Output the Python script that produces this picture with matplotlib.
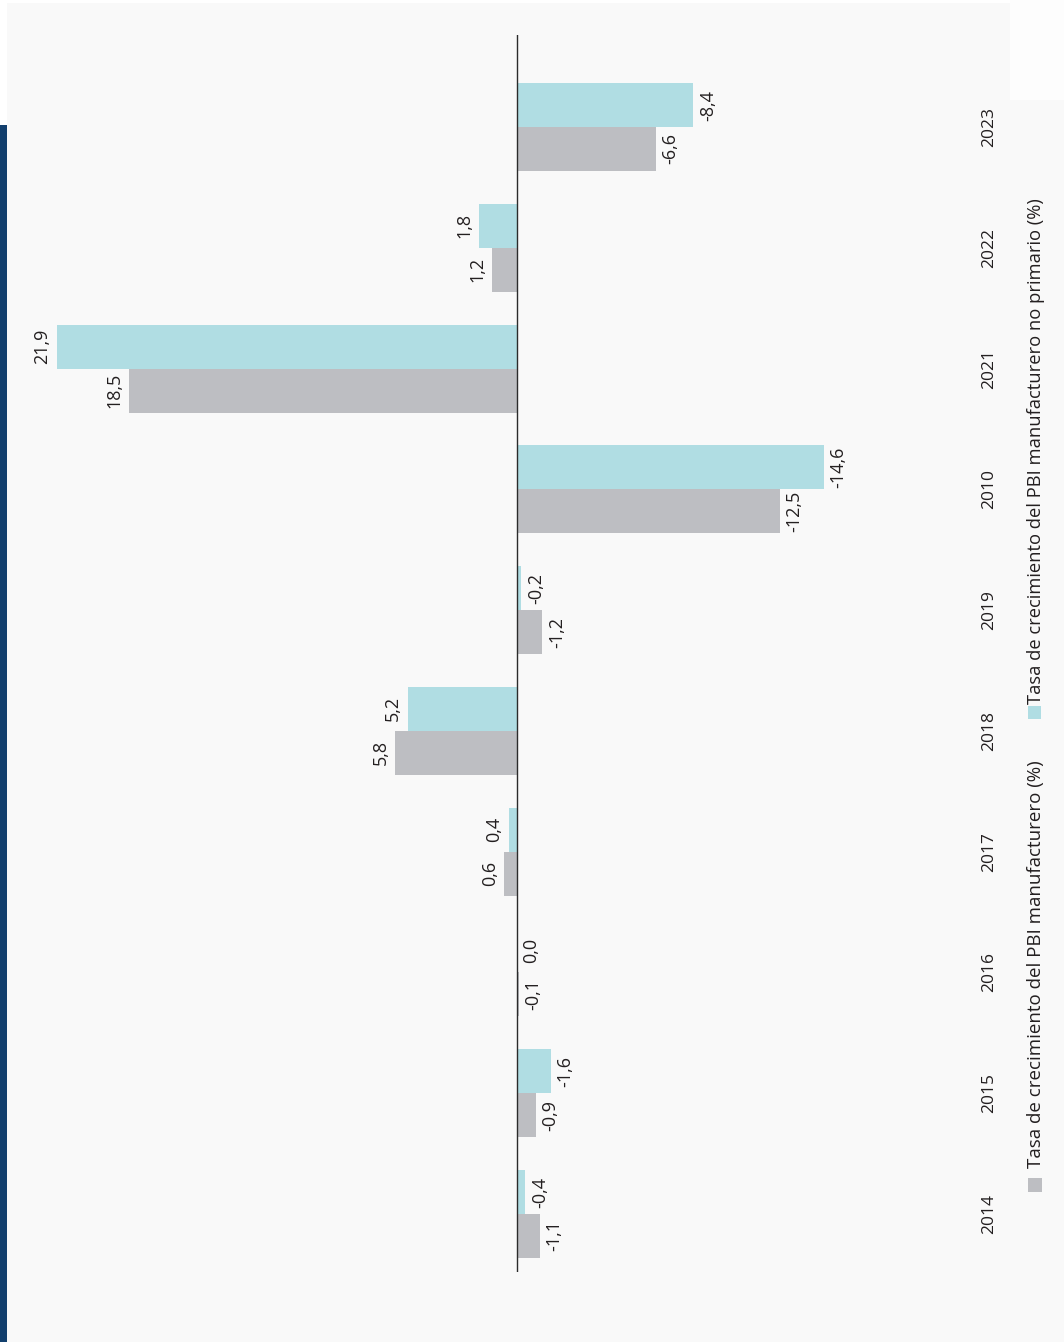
import matplotlib
matplotlib.use("Agg")
import matplotlib.pyplot as plt
import matplotlib.transforms as mtransforms
from matplotlib.patches import Rectangle
import numpy as np

# ---- data ----
years = ["2014", "2015", "2016", "2017", "2018", "2019", "2010", "2021", "2022", "2023"]
manufacturero = [-1.1, -0.9, -0.1, 0.6, 5.8, -1.2, -12.5, 18.5, 1.2, -6.6]
no_primario = [-0.4, -1.6, 0.0, 0.4, 5.2, -0.2, -14.6, 21.9, 1.8, -8.4]
legend_labels = ["Tasa de crecimiento del PBI manufacturero (%)",
                 "Tasa de crecimiento del PBI manufacturero no primario (%)"]

GRAY = "#bdbec2"
CYAN = "#b0dde3"
TEXT = "#231f20"

plt.rcParams['font.family'] = ['Open Sans', 'DejaVu Sans']

W, H = 1064, 1342
fig = plt.figure(figsize=(W / 100, H / 100), dpi=100, facecolor="white")

def fx(px):
    return px / W

def fy(py):
    return (H - py) / H

# background panel and blue strip
fig.patches.append(Rectangle((fx(7), fy(H)), fx(W - 7), (H - 3) / H,
                             transform=fig.transFigure, facecolor="#f9f9f9",
                             edgecolor="none", zorder=-10))
fig.patches.append(Rectangle((fx(1010), fy(100)), fx(W - 1010), 100 / H,
                             transform=fig.transFigure, facecolor="#fdfdfd",
                             edgecolor="none", zorder=-9))
fig.patches.append(Rectangle((0, 0), fx(7), (H - 125) / H,
                             transform=fig.transFigure, facecolor="#123f6d",
                             edgecolor="none", zorder=-8))

ax_left, ax_right, ax_top, ax_bottom = 40, 960, 35, 1272
ax = fig.add_axes([fx(ax_left), fy(ax_bottom), fx(ax_right - ax_left),
                   (ax_bottom - ax_top) / H])
ax.set_facecolor("none")

zero_px = 517
scale = 21.0
ax.set_xlim((zero_px - ax_left) / scale, -(ax_right - zero_px) / scale)
spacing = 120.8
c0, c9 = 1214, 127
ax.set_ylim(-(ax_bottom - c0) / spacing, 9 + (c9 - ax_top) / spacing)

y = np.arange(len(years))
h = 0.364
off = h / 2
ax.barh(y - off, manufacturero, height=h, color=GRAY, edgecolor="none", zorder=2)
ax.barh(y + off, no_primario, height=h, color=CYAN, edgecolor="none", zorder=2)
ax.axvline(0, color="#2b2b2b", lw=1.0, zorder=3)

def fmt(v):
    return f"{v:.1f}".replace(".", ",")

for series, dy in ((manufacturero, -off), (no_primario, off)):
    for yi, v in zip(y, series):
        if v > 0:
            ax.annotate(fmt(v), (v, yi + dy), xytext=(-4, 0), textcoords="offset points",
                        rotation=90, ha="right", va="center", fontsize=13, color=TEXT)
        else:
            ax.annotate(fmt(v), (v, yi + dy), xytext=(4, 0), textcoords="offset points",
                        rotation=90, ha="left", va="center", fontsize=13, color=TEXT)

trans = mtransforms.blended_transform_factory(fig.transFigure, ax.transData)
for yi, yr in zip(y, years):
    ax.text(fx(989), yi, yr, transform=trans, rotation=90, ha="center", va="center",
            fontsize=12.5, color=TEXT)

for sp in ax.spines.values():
    sp.set_visible(False)
ax.set_xticks([])
ax.set_yticks([])

# legend
fig.patches.append(Rectangle((fx(1028), fy(1192)), fx(14), 14 / H,
                             transform=fig.transFigure, facecolor=GRAY, edgecolor="none"))
fig.text(fx(1036), fy(1168), legend_labels[0], rotation=90, ha="center", va="bottom",
         fontsize=13.5, color=TEXT)
fig.patches.append(Rectangle((fx(1028), fy(719)), fx(13), 13 / H,
                             transform=fig.transFigure, facecolor=CYAN, edgecolor="none"))
fig.text(fx(1036), fy(704), legend_labels[1], rotation=90, ha="center", va="bottom",
         fontsize=13.2, color=TEXT)

fig.savefig("out.png", dpi=100, facecolor="white")
